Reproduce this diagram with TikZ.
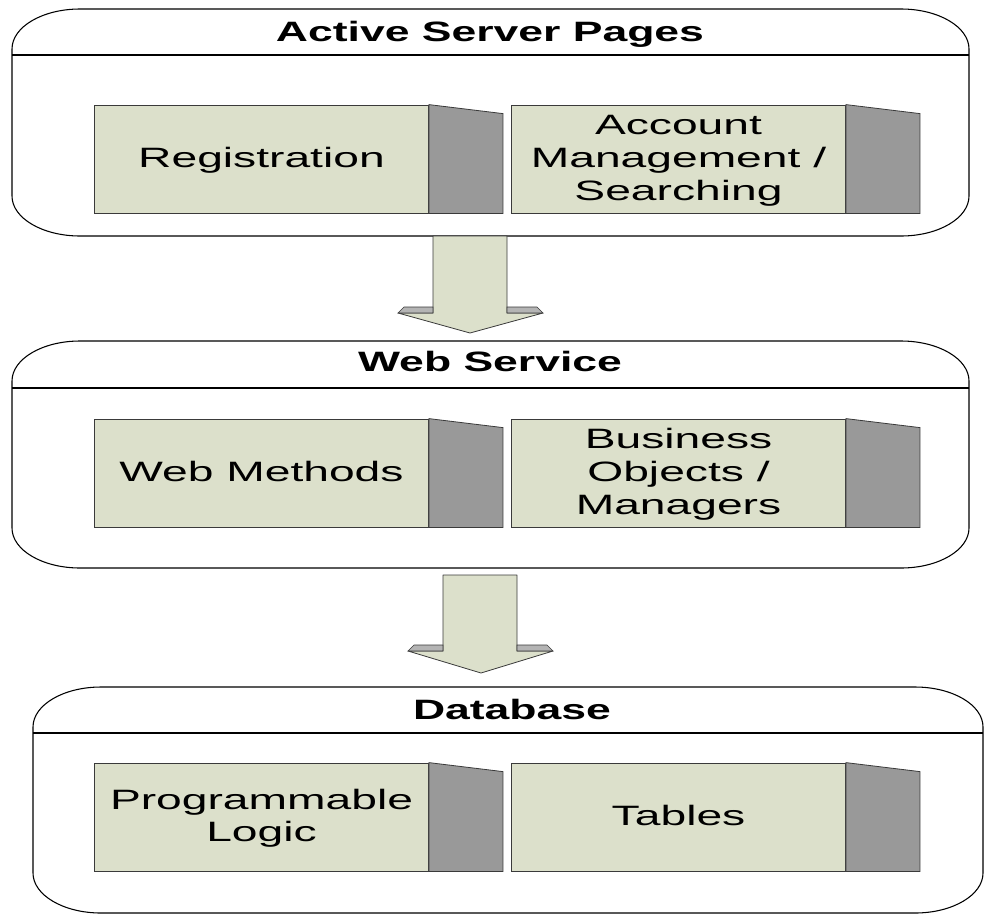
\documentclass[tikz,border=0pt]{standalone}
\usepackage{fontspec}
\usepackage{graphicx}
\usepackage{tikz}
\setmainfont{Liberation Sans}
\definecolor{TierFace}{HTML}{DCE0CB}
\definecolor{TierSide}{HTML}{999999}
\definecolor{TierStrip}{HTML}{B4B4B4}
\definecolor{TierEdge}{HTML}{3A3A3A}

% wide lettering as in the original drawing
\newcommand{\stretchtext}[2][1.65]{\raisebox{-1.5pt}[\height][\depth]{\scalebox{#1}[1]{\begin{tabular}{@{}c@{}}#2\end{tabular}}}}

% rounded tier frame: x1, y1, x2, y2 (pixels)
\newcommand{\tierframe}[4]{%
  \draw[frame] ({#1+68},#2) -- ({#3-68},#2)
    arc[start angle=90, end angle=0, x radius=51pt, y radius=30pt] -- (#3,{#4-40})
    arc[start angle=0, end angle=-90, x radius=51pt, y radius=30pt] -- ({#1+68},#4)
    arc[start angle=270, end angle=180, x radius=51pt, y radius=30pt] -- (#1,{#2+40})
    arc[start angle=180, end angle=90, x radius=51pt, y radius=30pt] -- cycle;}

\begin{document}
\begin{tikzpicture}[x=0.75pt, y=-0.75pt,
  frame/.style={draw=black, line width=0.8pt, fill=white},
  divider/.style={draw=black, line width=0.8pt},
  title/.style={font=\fontsize{21}{24}\selectfont\bfseries, text=black, inner sep=0pt},
  part/.style={draw=TierEdge, line width=0.6pt, fill=TierFace, minimum width=250.5pt,
    minimum height=81pt, inner sep=0pt, font=\fontsize{21}{24.5}\selectfont, text=black},
  side/.style={draw=TierEdge, line width=0.6pt, fill=TierSide},
  flow/.style={draw=TierEdge, line width=0.6pt, fill=TierFace, line join=round},
  strip/.style={draw=TierEdge, line width=0.5pt, fill=TierStrip},
]
  \useasboundingbox (0,0) rectangle (984,914);

  % Active Server Pages
  \tierframe{12}{9}{969}{236}
  \draw[divider] (12,55) -- (969,55);
  \node[title] (aspT) at (490,33) {\stretchtext[1.59]{Active Server Pages}};
  \node[part] (reg) at (261.5,159) {\stretchtext{Registration}};
  \node[part] (acc) at (678.5,159) {\stretchtext{Account\\Management /\\Searching}};
  \coordinate (aspS) at (470,236);

  % Web Service
  \tierframe{12}{341}{969}{568}
  \draw[divider] (12,388) -- (969,388);
  \node[title] (wsT) at (490,363) {\stretchtext[1.59]{Web Service}};
  \node[part] (wm) at (261.5,473) {\stretchtext{Web Methods}};
  \node[part] (bo) at (678.5,473) {\stretchtext{Business\\Objects /\\Managers}};
  \coordinate (wsS) at (480,568);

  % Database
  \tierframe{33}{687}{983}{913}
  \draw[divider] (33,733) -- (983,733);
  \node[title] (dbT) at (512,711) {\stretchtext[1.59]{Database}};
  \node[part] (pl) at (261.5,817) {\stretchtext{Programmable\\Logic}};
  \node[part] (tab) at (678.5,817) {\stretchtext{Tables}};

  % side faces
  \foreach \p in {reg,acc,wm,bo,pl,tab}
    \draw[side] (\p.north east) -- ++(74,9) |- (\p.south east) -- cycle;

  % ASP -> Web Service
  \draw[flow] (aspS) ++(-37,0) -- ++(74,0) -- ++(0,77) -- ++(36,0) -- ++(-73,20)
    -- ++(-72,-20) -- ++(35,0) -- cycle;
  \draw[strip] (aspS) ++(-37,71) -- ++(-29,0) -- ++(-6,6) -- ++(35,0) -- cycle;
  \draw[strip] (aspS) ++(37,71) -- ++(30,0) -- ++(6,6) -- ++(-36,0) -- cycle;

  % Web Service -> Database
  \draw[flow] (wsS) ++(-37,7) -- ++(74,0) -- ++(0,76) -- ++(36,0) -- ++(-72,22)
    -- ++(-73,-22) -- ++(35,0) -- cycle;
  \draw[strip] (wsS) ++(-37,77) -- ++(-29,0) -- ++(-6,6) -- ++(35,0) -- cycle;
  \draw[strip] (wsS) ++(37,77) -- ++(30,0) -- ++(6,6) -- ++(-36,0) -- cycle;
\end{tikzpicture}
\end{document}
